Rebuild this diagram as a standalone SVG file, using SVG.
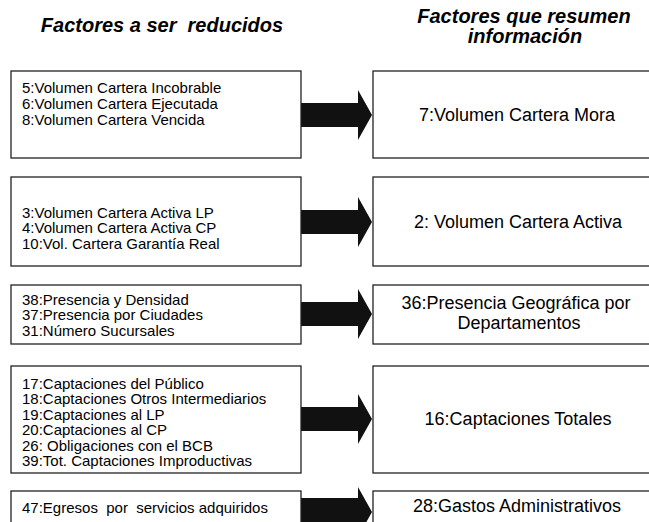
<svg xmlns="http://www.w3.org/2000/svg" width="649" height="522" viewBox="0 0 649 522">
<style>
.box{fill:#fff;stroke:#222;stroke-width:1.3}
.h{font-family:"Liberation Sans",Arial,sans-serif;font-weight:bold;font-style:italic;font-size:20px;fill:#000;text-anchor:middle}
.l{font-family:"Liberation Sans",Arial,sans-serif;font-size:15px;fill:#000}
.r{font-family:"Liberation Sans",Arial,sans-serif;font-size:18px;fill:#000;text-anchor:middle}
.arr{fill:#111}
</style>
<rect width="649" height="522" fill="#fff"/>
<g id="headings">
<text class="h" x="162" y="32" xml:space="preserve">Factores a ser  reducidos</text>
<text class="h" x="524" y="23">Factores que resumen</text>
<text class="h" x="525" y="43">información</text>
</g>
<g id="connectors">
<path class="arr" d="M301,103 H358 V90 L372,115 L358,140 V127 H301 Z"/>
<path class="arr" d="M301,210 H358 V197 L372,222 L358,247 V234 H301 Z"/>
<path class="arr" d="M301,302 H358 V289 L372,314 L358,339 V326 H301 Z"/>
<path class="arr" d="M301,407 H358 V394 L372,419 L358,444 V431 H301 Z"/>
<path class="arr" d="M301,498 H358 V487 L372,512 L358,537 V522 H301 Z"/>
</g>
<g id="n1">
<rect class="box" x="11" y="71" width="290" height="87"/>
<text class="l" x="22" y="92.5">5:Volumen Cartera Incobrable</text>
<text class="l" x="22" y="108.5">6:Volumen Cartera Ejecutada</text>
<text class="l" x="22" y="124.5">8:Volumen Cartera Vencida</text>
</g>
<g id="m1">
<rect class="box" x="373" y="71" width="290" height="87"/>
<text class="r" x="517" y="121">7:Volumen Cartera Mora</text>
</g>
<g id="n2">
<rect class="box" x="11" y="177" width="290" height="89"/>
<text class="l" x="22" y="217.5">3:Volumen Cartera Activa LP</text>
<text class="l" x="22" y="233">4:Volumen Cartera Activa CP</text>
<text class="l" x="22" y="248.5">10:Vol. Cartera Garantía Real</text>
</g>
<g id="m2">
<rect class="box" x="373" y="177" width="290" height="89"/>
<text class="r" x="518" y="228">2: Volumen Cartera Activa</text>
</g>
<g id="n3">
<rect class="box" x="11" y="285" width="290" height="59"/>
<text class="l" x="22" y="304.5">38:Presencia y Densidad</text>
<text class="l" x="22" y="320">37:Presencia por Ciudades</text>
<text class="l" x="22" y="335.5">31:Número Sucursales</text>
</g>
<g id="m3">
<rect class="box" x="373" y="285" width="290" height="59"/>
<text class="r" x="516" y="309">36:Presencia Geográfica por</text>
<text class="r" x="519" y="329">Departamentos</text>
</g>
<g id="n4">
<rect class="box" x="11" y="366" width="290" height="107"/>
<text class="l" x="22" y="388.5">17:Captaciones del Público</text>
<text class="l" x="22" y="404">18:Captaciones Otros Intermediarios</text>
<text class="l" x="22" y="419.5">19:Captaciones al LP</text>
<text class="l" x="22" y="435">20:Captaciones al CP</text>
<text class="l" x="22" y="450.5">26: Obligaciones con el BCB</text>
<text class="l" x="22" y="466">39:Tot. Captaciones Improductivas</text>
</g>
<g id="m4">
<rect class="box" x="373" y="366" width="290" height="107"/>
<text class="r" x="518" y="425">16:Captaciones Totales</text>
</g>
<g id="n5">
<rect class="box" x="11" y="491" width="290" height="60"/>
<text class="l" x="22" y="512.5" xml:space="preserve">47:Egresos  por  servicios adquiridos</text>
</g>
<g id="m5">
<rect class="box" x="373" y="491" width="290" height="60"/>
<text class="r" x="517" y="512">28:Gastos Administrativos</text>
</g>
</svg>
